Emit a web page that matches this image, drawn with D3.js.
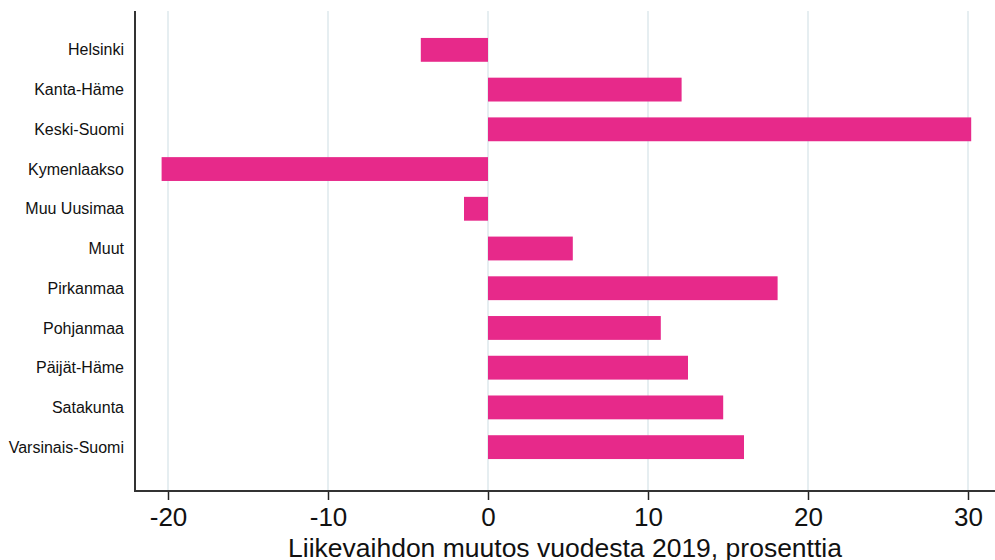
<!DOCTYPE html>
<html>
<head>
<meta charset="utf-8">
<script src="https://cdn.jsdelivr.net/npm/d3@7"></script>
<style>
  body { margin: 0; background: #fff; }
  svg { display: block; }
</style>
</head>
<body>
<script>
// regions and change in turnover vs 2019, percent
const regions = ["Helsinki", "Kanta-Häme", "Keski-Suomi", "Kymenlaakso", "Muu Uusimaa", "Muut",
    "Pirkanmaa", "Pohjanmaa", "Päijät-Häme", "Satakunta", "Varsinais-Suomi"];
const change = [-4.2, 12.1, 30.2, -20.4, -1.5, 5.3, 18.1, 10.8, 12.5, 14.7, 16.0];
const xTicks = [-20, -10, 0, 10, 20, 30];
const xTitle = "Liikevaihdon muutos vuodesta 2019, prosenttia";

function init() {
    var w = 995;
    var h = 560;
    var left = 135, right = 995, top = 11, bottom = 491;

    var data = regions.map(function(r, i) { return {region: r, value: change[i]}; });

    var xScale = d3.scaleLinear()
        .domain([0, 10])
        .range([488, 648]);

    var yScale = d3.scaleBand()
        .domain(regions)
        .range([30, 467])
        .paddingInner(0.4)
        .paddingOuter(0.2);

    var svg = d3.select("body")
        .append("svg")
        .attr("width", w)
        .attr("height", h);

    // gridlines
    svg.append("g")
        .selectAll("line")
        .data(xTicks)
        .enter()
        .append("line")
        .attr("x1", function(d) { return xScale(d); })
        .attr("x2", function(d) { return xScale(d); })
        .attr("y1", top)
        .attr("y2", bottom)
        .attr("stroke", "#e6eef1")
        .attr("stroke-width", 2);

    // bars
    svg.append("g")
        .selectAll("rect")
        .data(data)
        .enter()
        .append("rect")
        .attr("x", function(d) { return xScale(Math.min(0, d.value)); })
        .attr("y", function(d) { return yScale(d.region); })
        .attr("width", function(d) { return Math.abs(xScale(d.value) - xScale(0)); })
        .attr("height", yScale.bandwidth())
        .attr("fill", "#e7298a");

    // y labels
    svg.append("g")
        .selectAll("text")
        .data(regions)
        .enter()
        .append("text")
        .attr("x", 124)
        .attr("y", function(d) { return yScale(d) + yScale.bandwidth() / 2; })
        .attr("dy", "0.35em")
        .attr("text-anchor", "end")
        .style("font-family", "'Liberation Sans', Arial, sans-serif")
        .style("font-size", "16px")
        .attr("fill", "#111")
        .text(function(d) { return d; });

    // x axis
    var xAxis = d3.axisBottom(xScale)
        .tickValues(xTicks)
        .tickFormat(function(d) { return String(d); })
        .tickSize(9)
        .tickPadding(8);

    var gx = svg.append("g")
        .attr("transform", "translate(0," + bottom + ")")
        .call(xAxis);
    gx.select(".domain").remove();
    gx.selectAll(".tick line").attr("stroke", "#222").attr("stroke-width", 1.5);
    gx.selectAll(".tick text")
        .style("font-family", "'Liberation Sans', Arial, sans-serif")
        .style("font-size", "26px")
        .attr("fill", "#111");

    // axis lines
    svg.append("line")
        .attr("x1", left).attr("x2", left)
        .attr("y1", top).attr("y2", bottom)
        .attr("stroke", "#333").attr("stroke-width", 2);
    svg.append("line")
        .attr("x1", left - 1).attr("x2", right)
        .attr("y1", bottom).attr("y2", bottom)
        .attr("stroke", "#333").attr("stroke-width", 2);

    svg.append("text")
        .attr("x", 565)
        .attr("y", 557)
        .attr("text-anchor", "middle")
        .style("font-family", "'Liberation Sans', Arial, sans-serif")
        .style("font-size", "26.5px")
        .attr("fill", "#111")
        .text(xTitle);
}
window.onload = init;
</script>
</body>
</html>
